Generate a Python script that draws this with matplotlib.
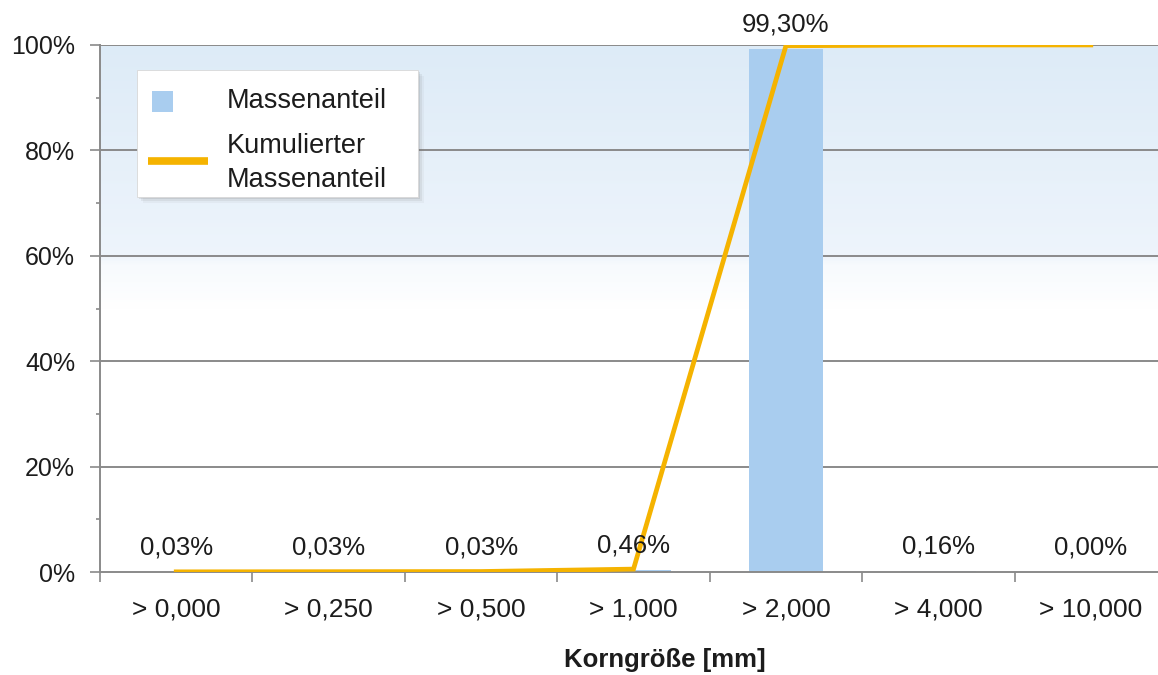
import numpy as np
import matplotlib
matplotlib.use("Agg")
import matplotlib.pyplot as plt
from matplotlib.patches import Rectangle
from matplotlib.lines import Line2D
from matplotlib.colors import LinearSegmentedColormap
from matplotlib.ticker import MultipleLocator, FuncFormatter

plt.rcParams['font.family'] = ['Liberation Sans', 'DejaVu Sans']

# Grain size classes and mass fractions (%)
categories = ["> 0,000", "> 0,250", "> 0,500", "> 1,000", "> 2,000", "> 4,000", "> 10,000"]
mass_share = [0.03, 0.03, 0.03, 0.46, 99.30, 0.16, 0.00]
value_labels = ["0,03%", "0,03%", "0,03%", "0,46%", "99,30%", "0,16%", "0,00%"]
cumulative = np.cumsum(mass_share)

BAR_COLOR = "#a9cdef"
LINE_COLOR = "#f5b300"
GRID_COLOR = "#8a8a8a"
TEXT_COLOR = "#1c1c1c"

W, H = 1158, 675
fig = plt.figure(figsize=(W / 100, H / 100), dpi=100)
fig.patch.set_facecolor("white")

# plot area: x from 100 px to 1167 px (runs past the right edge), y from 45 px to 572 px
left, right, top, bottom = 100, 1167, 45, 572
ax = fig.add_axes([left / W, (H - bottom) / H, (right - left) / W, (bottom - top) / H])

x = np.arange(len(categories))
ax.set_xlim(-0.5, len(categories) - 0.5)
ax.set_ylim(0, 100)

# soft blue background fading to white towards the middle of the chart
stops = [(0.0, (1, 1, 1)), (0.50, (1, 1, 1)), (0.585, (0.968, 0.980, 0.993)),
         (0.60, (0.932, 0.958, 0.986)), (1.0, (0.868, 0.922, 0.970))]
cmap = LinearSegmentedColormap.from_list("bg", stops)
grad = np.linspace(0, 1, 400).reshape(-1, 1)
ax.imshow(grad, cmap=cmap, aspect="auto", origin="lower",
          extent=(-0.5, len(categories) - 0.5, 0, 100), zorder=0, interpolation="bilinear")

# grid lines
ax.set_axisbelow(True)
for yv in [20, 40, 60, 80, 100]:
    ax.axhline(yv, color=GRID_COLOR, lw=1.4, zorder=1)

# bars and cumulative line
ax.bar(x, mass_share, width=0.49, color=BAR_COLOR, zorder=2)
ax.plot(x, cumulative, color=LINE_COLOR, lw=3.4, zorder=3, solid_joinstyle="miter")

for xi, v, lab in zip(x, mass_share, value_labels):
    ax.annotate(lab, (xi, v), xytext=(0, 9), textcoords="offset points",
                ha="center", va="bottom", fontsize=18.5, color=TEXT_COLOR, zorder=4)

# axes styling
for s in ["top", "right"]:
    ax.spines[s].set_visible(False)
for s in ["left", "bottom"]:
    ax.spines[s].set_color(GRID_COLOR)
    ax.spines[s].set_linewidth(1.4)

ax.yaxis.set_major_locator(MultipleLocator(20))
ax.yaxis.set_minor_locator(MultipleLocator(10))
ax.yaxis.set_major_formatter(FuncFormatter(lambda v, p: f"{int(v)}%"))
ax.tick_params(axis="y", which="major", direction="out", length=7, width=1.2,
               color=GRID_COLOR, labelsize=18, labelcolor=TEXT_COLOR, pad=11)
ax.tick_params(axis="y", which="minor", direction="out", length=3, width=1.2, color=GRID_COLOR)

ax.set_xticks(x)
ax.set_xticklabels(categories)
ax.set_xticks(np.arange(len(categories)) - 0.5, minor=True)
ax.tick_params(axis="x", which="major", length=0, labelsize=19, labelcolor=TEXT_COLOR, pad=18)
ax.tick_params(axis="x", which="minor", direction="out", length=7, width=1.2, color=GRID_COLOR)

fig.text(665 / W, 1 - 660 / H, "Korngröße [mm]", ha="center", va="center",
         fontsize=18.5, fontweight="bold", color=TEXT_COLOR)

# legend box with soft shadow
def fx(px):
    return px / W

def fy(py):
    return 1 - py / H

for off, alpha in [(6, 0.06), (4, 0.10), (2, 0.16)]:
    fig.add_artist(Rectangle((fx(137 + off), fy(197 + off)), fx(281), 127 / H,
                             transform=fig.transFigure, facecolor="#707070",
                             edgecolor="none", alpha=alpha, zorder=5))
fig.add_artist(Rectangle((fx(137), fy(197)), fx(281), 127 / H, transform=fig.transFigure,
                         facecolor="white", edgecolor="#d8d8d8", lw=0.6, zorder=6))
fig.add_artist(Rectangle((fx(152), fy(112)), fx(21), 21 / H, transform=fig.transFigure,
                         facecolor=BAR_COLOR, edgecolor="none", zorder=7))
fig.add_artist(Line2D([fx(148), fx(208)], [fy(161), fy(161)], transform=fig.transFigure,
                      color=LINE_COLOR, lw=5.5, solid_capstyle="butt", zorder=7))
fig.text(fx(227), fy(101), "Massenanteil", ha="left", va="center", fontsize=19.5,
         color=TEXT_COLOR, zorder=8)
fig.text(fx(227), fy(163), "Kumulierter\nMassenanteil", ha="left", va="center",
         fontsize=19.5, color=TEXT_COLOR, linespacing=1.38, zorder=8)

fig.savefig("out.png", dpi=100, facecolor="white")
